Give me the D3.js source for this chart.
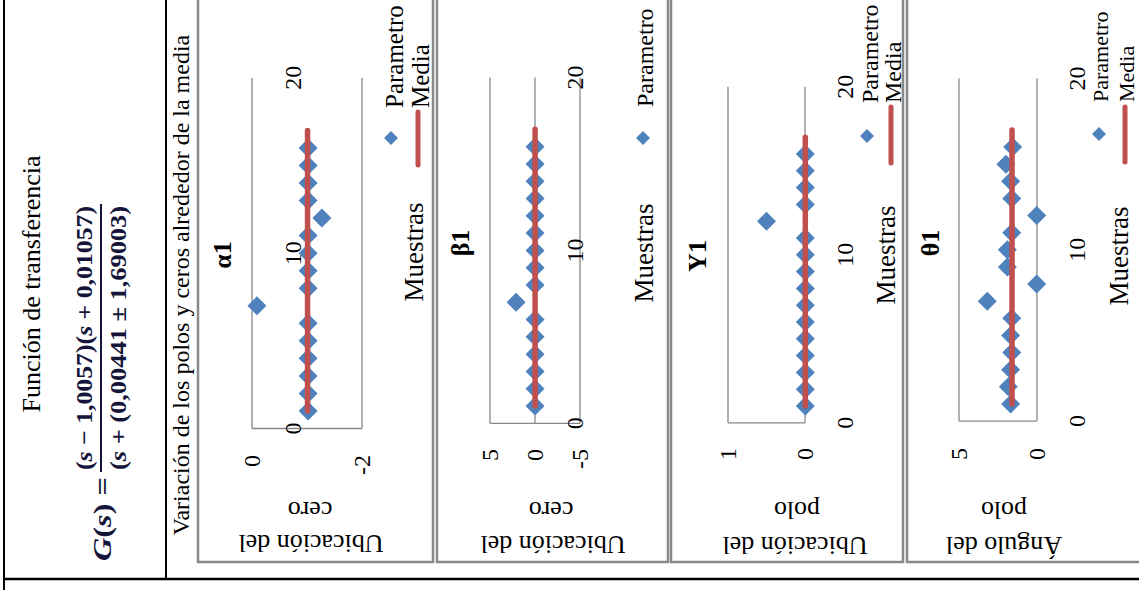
<!DOCTYPE html>
<html>
<head>
<meta charset="utf-8">
<script src="https://cdn.jsdelivr.net/npm/d3@7"></script>
<style>
  html, body { margin: 0; padding: 0; background: #fff; overflow: hidden; }
  text { font-family: "Liberation Serif", "Times New Roman", serif; }
</style>
</head>
<body>
<svg id="c" width="1139" height="590"></svg>
<script>
// ---- Datos ----
// Número de muestra (eje horizontal de cada gráfico)
const muestras = [1, 2, 3, 4, 5, 6, 7, 8, 9, 10, 11, 12, 13, 14, 15, 16];
// Extremos de la línea de la media
const muestrasMedia = [1, 17];
const ticksMuestras = [0, 10, 20];

// α1: ubicación del cero
const alfa1 = [-1.02, -1.02, -1.02, -1.02, -1.02, -1.02, -0.09, -1.02,
               -1.02, -1.02, -1.02, -1.27, -1.02, -1.02, -1.02, -1.02];
const mediaAlfa1 = -1.01;
const ticksAlfa1 = [0, -2];

// β1: ubicación del cero
const beta1 = [-0.01, -0.01, -0.01, -0.01, -0.01, -0.01, 2.1, -0.01,
               -0.01, -0.01, -0.01, -0.01, -0.01, -0.01, -0.01, -0.01];
const mediaBeta1 = -0.01;
const ticksBeta1 = [5, 0, -5];

// Y1: ubicación del polo
const gamma1 = [-0.004, -0.004, -0.004, -0.004, -0.004, -0.004, -0.004, -0.004,
                -0.004, -0.004, -0.004, 0.50, -0.004, -0.004, -0.004, -0.004];
const mediaGamma1 = -0.004;
const ticksGamma1 = [1, 0];

// θ1: ángulo del polo
const theta1 = [1.69, 1.84, 1.69, 1.62, 1.69, 1.62, 3.19, 0.02,
                1.90, 1.90, 1.62, 0.02, 1.62, 1.69, 1.99, 1.56];
const mediaTheta1 = 1.60;
const ticksTheta1 = [5, 0];

const titulos = ["α1", "β1", "Y1", "θ1"];
const titulosEjeY = [["Ubicación del", "cero"], ["Ubicación del", "cero"],
                     ["Ubicación del", "polo"], ["Ángulo del", "polo"]];
const leyendas = [["Parametro", "Media"], ["Parametro"], ["Parametro", "Media"], ["Parametro", "Media"]];

// ---- Dibujo ----
const svg = d3.select("#c");
const AZUL = "#4F81BD", ROJO = "#C0504D", GRIS = "#888888";

// Rombo de lados iguales para los marcadores
const rombo = {
  draw(ctx, size) {
    const r = Math.sqrt(size / 2);
    ctx.moveTo(0, -r); ctx.lineTo(r, 0); ctx.lineTo(0, r); ctx.lineTo(-r, 0); ctx.closePath();
  }
};

function texto(parent, x, y, str, o = {}) {
  const t = parent.append("text")
    .attr("transform", `translate(${x},${y}) rotate(${o.rot ?? -90})`)
    .attr("text-anchor", o.anchor || "middle")
    .attr("dominant-baseline", "central")
    .attr("font-size", o.size || 24)
    .attr("font-weight", o.weight || "normal")
    .attr("fill", o.fill || "#000")
    .text(str);
  if (o.len) t.attr("textLength", o.len).attr("lengthAdjust", "spacingAndGlyphs");
  return t;
}

// Tabla
svg.append("line").attr("x1", 4).attr("x2", 4).attr("y1", 0).attr("y2", 590)
  .attr("stroke", "#000").attr("stroke-width", 2);
svg.append("line").attr("x1", 166).attr("x2", 166).attr("y1", 0).attr("y2", 579)
  .attr("stroke", "#000").attr("stroke-width", 2);
svg.append("line").attr("x1", 4).attr("x2", 1139).attr("y1", 579).attr("y2", 579)
  .attr("stroke", "#000").attr("stroke-width", 2.3);

// Columna izquierda: función de transferencia
texto(svg, 31, 284, "Función de transferencia", { size: 26 });

const colF = "#15153a";
const gs = svg.append("text")
  .attr("transform", "translate(102,561) rotate(-90)")
  .attr("dominant-baseline", "central").attr("font-size", 25).attr("font-weight", "bold").attr("fill", colF)
  .attr("textLength", 84).attr("lengthAdjust", "spacingAndGlyphs");
gs.append("tspan").attr("font-style", "italic").text("G");
gs.append("tspan").text("(");
gs.append("tspan").attr("font-style", "italic").text("s");
gs.append("tspan").text(") =");

function formula(x, partes) {
  const t = svg.append("text")
    .attr("transform", `translate(${x},338) rotate(-90)`)
    .attr("text-anchor", "middle").attr("dominant-baseline", "central")
    .attr("font-size", 23).attr("font-weight", "bold").attr("fill", colF)
    .attr("textLength", 264).attr("lengthAdjust", "spacingAndGlyphs");
  partes.forEach(([s, it]) => t.append("tspan").attr("font-style", it ? "italic" : "normal").text(s));
}
formula(84, [["(", 0], ["s", 1], [" − 1,0057)(", 0], ["s", 1], [" + 0,01057)", 0]]);
formula(118, [["(", 0], ["s", 1], [" + (0,00441 ± 1,69003)", 0]]);
svg.append("line").attr("x1", 101).attr("x2", 101).attr("y1", 204).attr("y2", 472)
  .attr("stroke", colF).attr("stroke-width", 2);

// Subtítulo de la columna derecha
texto(svg, 181, 285, "Variación de los polos y ceros alrededor de la media", { size: 24 });

// Configuración de cada gráfico
const graficos = [
  { datos: alfa1, media: mediaAlfa1, ticksY: ticksAlfa1,
    marco: [198, 433], y0: 428.5, y20: 77.8, dom: [0, -2], rango: [252, 362],
    tickX: 293, tickYFin: 455, tit: [222, 255], mues: [414, 252],
    ejeY: [[311, 543], [310, 510]], leyInicio: 108, leyTam: 25,
    rombo: [391, 138], textoLey: [394, 420], lineaLey: [418, 112, 165] },
  { datos: beta1, media: mediaBeta1, ticksY: ticksBeta1,
    marco: [437, 668], y0: 423.3, y20: 77.5, dom: [5, -5], rango: [490, 580],
    tickX: 575, tickYFin: 449, tit: [460, 243], mues: [644, 253],
    ejeY: [[553, 544], [551, 510]], leyInicio: 107, leyTam: 24,
    rombo: [643, 138], textoLey: [645], lineaLey: null },
  { datos: gamma1, media: mediaGamma1, ticksY: ticksGamma1,
    marco: [671, 903], y0: 422.8, y20: 86.8, dom: [1, 0], rango: [728, 805],
    tickX: 845, tickYFin: 448, tit: [697, 256], mues: [886, 255],
    ejeY: [[795, 545], [797, 510]], leyInicio: 103, leyTam: 24,
    rombo: [867, 136], textoLey: [870, 893], lineaLey: [891, 107, 163] },
  { datos: theta1, media: mediaTheta1, ticksY: ticksTheta1,
    marco: [907, 1147], y0: 421.1, y20: 78.5, dom: [5, 0], rango: [959, 1037],
    tickX: 1077, tickYFin: 448, tit: [930, 243], mues: [1119, 256],
    ejeY: [[1004, 545], [1004, 510]], leyInicio: 102, leyTam: 22,
    rombo: [1099, 134], textoLey: [1100, 1126], lineaLey: [1125, 107, 162] }
];

graficos.forEach((c, i) => {
  const g = svg.append("g");
  // Marco del gráfico
  g.append("rect").attr("x", c.marco[0]).attr("y", -10)
    .attr("width", c.marco[1] - c.marco[0]).attr("height", 562 + 10)
    .attr("fill", "none").attr("stroke", GRIS).attr("stroke-width", 2.5);

  const sx = d3.scaleLinear().domain([0, 20]).range([c.y0, c.y20]);
  const sv = d3.scaleLinear().domain(c.dom).range(c.rango);

  // Líneas de división del valor
  g.selectAll(".grid").data(c.ticksY).join("line")
    .attr("x1", d => sv(d)).attr("x2", d => sv(d))
    .attr("y1", sx(0)).attr("y2", sx(20))
    .attr("stroke", GRIS).attr("stroke-width", 1.3);
  // Eje de valores
  g.append("line").attr("x1", sv(c.dom[0])).attr("x2", sv(c.dom[1]))
    .attr("y1", sx(0)).attr("y2", sx(0))
    .attr("stroke", GRIS).attr("stroke-width", 1.3);

  // Etiquetas de los ejes
  c.ticksY.forEach(t => texto(g, sv(t), c.tickYFin, String(t), { size: 24, anchor: "end" }));
  ticksMuestras.forEach(t => texto(g, c.tickX, sx(t), String(t), { size: 24 }));

  // Títulos
  texto(g, c.tit[0], c.tit[1], titulos[i], { size: 26, weight: "bold" });
  texto(g, c.mues[0], c.mues[1], "Muestras", { size: 27 });
  titulosEjeY[i].forEach((s, k) => texto(g, c.ejeY[k][0], c.ejeY[k][1], s, { size: 26, rot: 180 }));

  // Serie Parametro
  const sym = d3.symbol().type(rombo).size(2 * 9.5 * 9.5);
  g.selectAll(".p").data(c.datos).join("path")
    .attr("d", sym)
    .attr("transform", (d, k) => `translate(${sv(d)},${sx(muestras[k])})`)
    .attr("fill", AZUL);

  // Serie Media
  const linea = d3.line().x(() => sv(c.media)).y(m => sx(m));
  g.append("path").attr("d", linea(muestrasMedia))
    .attr("fill", "none").attr("stroke", ROJO).attr("stroke-width", 5.5)
    .attr("stroke-linecap", "round");

  // Leyenda
  g.append("path").attr("d", d3.symbol().type(rombo).size(2 * 7 * 7)())
    .attr("transform", `translate(${c.rombo[0]},${c.rombo[1]})`).attr("fill", AZUL);
  leyendas[i].forEach((s, k) => texto(g, c.textoLey[k], c.leyInicio, s, { size: c.leyTam, anchor: "start" }));
  if (c.lineaLey) {
    g.append("line").attr("x1", c.lineaLey[0]).attr("x2", c.lineaLey[0])
      .attr("y1", c.lineaLey[1]).attr("y2", c.lineaLey[2])
      .attr("stroke", ROJO).attr("stroke-width", 5).attr("stroke-linecap", "round");
  }
});
</script>
</body>
</html>
